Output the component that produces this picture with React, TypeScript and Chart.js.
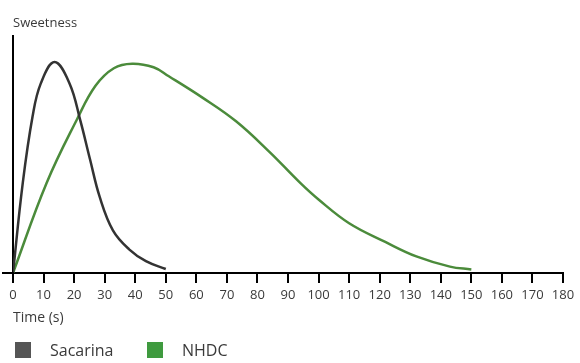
import React, { useEffect, useRef } from "react";
import { Chart, registerables } from "chart.js";

Chart.register(...registerables);

// ---- data ----
const xTickValues = [0, 10, 20, 30, 40, 50, 60, 70, 80, 90, 100, 110, 120, 130, 140, 150, 160, 170, 180];

const sacarinaTime = [0, 3.2, 6.4, 9.1, 13.6, 18.5, 22, 25.2, 28.4, 32.7, 38, 43.5, 50];
const sacarinaValue = [0, 38, 66, 80, 89, 80, 64.5, 48, 32, 18, 10, 5, 1.7];

const nhdcTime = [0, 11, 21, 27, 33, 39, 46, 51, 62, 73, 84, 94, 100, 110, 122, 132, 143, 150];
const nhdcValue = [0, 38, 65, 79, 86.4, 88.3, 86.8, 83, 74, 64, 51, 38, 31, 21, 13, 7, 2.7, 1.5];

const seriesNames = ["Sacarina", "NHDC"];
const lineColors = ["#333333", "#4b8b3b"];
const legendColors = ["#555555", "#3f9a3f"];

const FONT = "'Open Sans', sans-serif";
const TEXT = "#3a3a3a";

function drawAxisTicks(chart: any) {
  const xs = chart.scales.x;
  if (!xs || !chart.chartArea) return;
  const ctx = chart.ctx;
  const y0 = Math.round(chart.chartArea.bottom);
  ctx.save();
  ctx.fillStyle = "#000";
  xs.ticks.forEach((t: any) => {
    const px = Math.round(xs.getPixelForValue(t.value));
    ctx.fillRect(px - 1, y0 - 1, 2, 11);
  });
  // small extension of the axis line to the left of the y axis
  ctx.fillRect(2, y0 - 1, Math.round(chart.chartArea.left) - 2, 2);
  ctx.restore();
}

// tick marks under the x axis
const axisTicksPlugin = {
  id: "axisTicks",
  beforeDatasetsDraw(chart: any) {
    drawAxisTicks(chart);
  },
  afterDraw(chart: any) {
    drawAxisTicks(chart);
  },
};

export default function App() {
  const ref = useRef<HTMLCanvasElement>(null);

  useEffect(() => {
    const chart = new Chart(ref.current!, {
      type: "line",
      data: {
        datasets: [
          {
            label: seriesNames[0],
            data: sacarinaTime.map((t, i) => ({ x: t, y: sacarinaValue[i] })),
            borderColor: lineColors[0],
            borderWidth: 2.5,
            pointRadius: 0,
            tension: 0.4,
            fill: false,
          },
          {
            label: seriesNames[1],
            data: nhdcTime.map((t, i) => ({ x: t, y: nhdcValue[i] })),
            borderColor: lineColors[1],
            borderWidth: 2.5,
            pointRadius: 0,
            tension: 0.4,
            fill: false,
          },
        ],
      },
      options: {
        animation: false,
        responsive: false,
        maintainAspectRatio: false,
        layout: { padding: { left: 13, right: 17, top: 0, bottom: 0 } },
        plugins: {
          legend: { display: false },
          tooltip: { enabled: false },
          title: {
            display: true,
            text: "Sweetness",
            align: "start",
            color: TEXT,
            font: { family: FONT, size: 13, weight: "normal" },
            padding: { top: 15.7, bottom: 4.7 },
          },
        },
        scales: {
          x: {
            type: "linear",
            min: 0,
            max: 180,
            afterBuildTicks: (s: any) => {
              s.ticks = xTickValues.map((v) => ({ value: v }));
            },
            ticks: {
              autoSkip: false,
              maxRotation: 0,
              color: TEXT,
              font: { family: FONT, size: 13 },
              padding: 5,
            },
            grid: {
              display: true,
              drawOnChartArea: false,
              drawTicks: true,
              tickLength: 9,
              color: "#000",
              lineWidth: 2,
            },
            border: { display: true, color: "#000", width: 2 },
            title: {
              display: true,
              text: "Time (s)",
              align: "start",
              color: TEXT,
              font: { family: FONT, size: 14 },
              padding: { top: 0, bottom: 37 },
            },
            afterFit: (s: any) => {
              s.height = 90;
            },
          },
          y: {
            min: 0,
            max: 100,
            ticks: { display: false },
            grid: { display: false },
            border: { display: true, color: "#000", width: 2 },
            afterFit: (s: any) => {
              s.width = 0;
            },
          },
        },
      },
      plugins: [axisTicksPlugin],
    });
    return () => chart.destroy();
  }, []);

  const legendLeft = [15, 147];
  return (
    <div
      style={{
        position: "fixed",
        left: 0,
        top: 0,
        width: 580,
        height: 363,
        background: "#fff",
        overflow: "hidden",
      }}
    >
      <canvas ref={ref} width={580} height={363} style={{ display: "block" }} />
      {seriesNames.map((name, i) => (
        <div
          key={name}
          style={{
            position: "absolute",
            left: legendLeft[i],
            top: 342,
            display: "flex",
            alignItems: "center",
            height: 16,
          }}
        >
          <div style={{ width: 16, height: 16, background: legendColors[i] }} />
          <span
            style={{
              marginLeft: 19,
              fontFamily: FONT,
              fontSize: 16,
              color: TEXT,
              lineHeight: "16px",
              whiteSpace: "nowrap",
            }}
          >
            {name}
          </span>
        </div>
      ))}
    </div>
  );
}
